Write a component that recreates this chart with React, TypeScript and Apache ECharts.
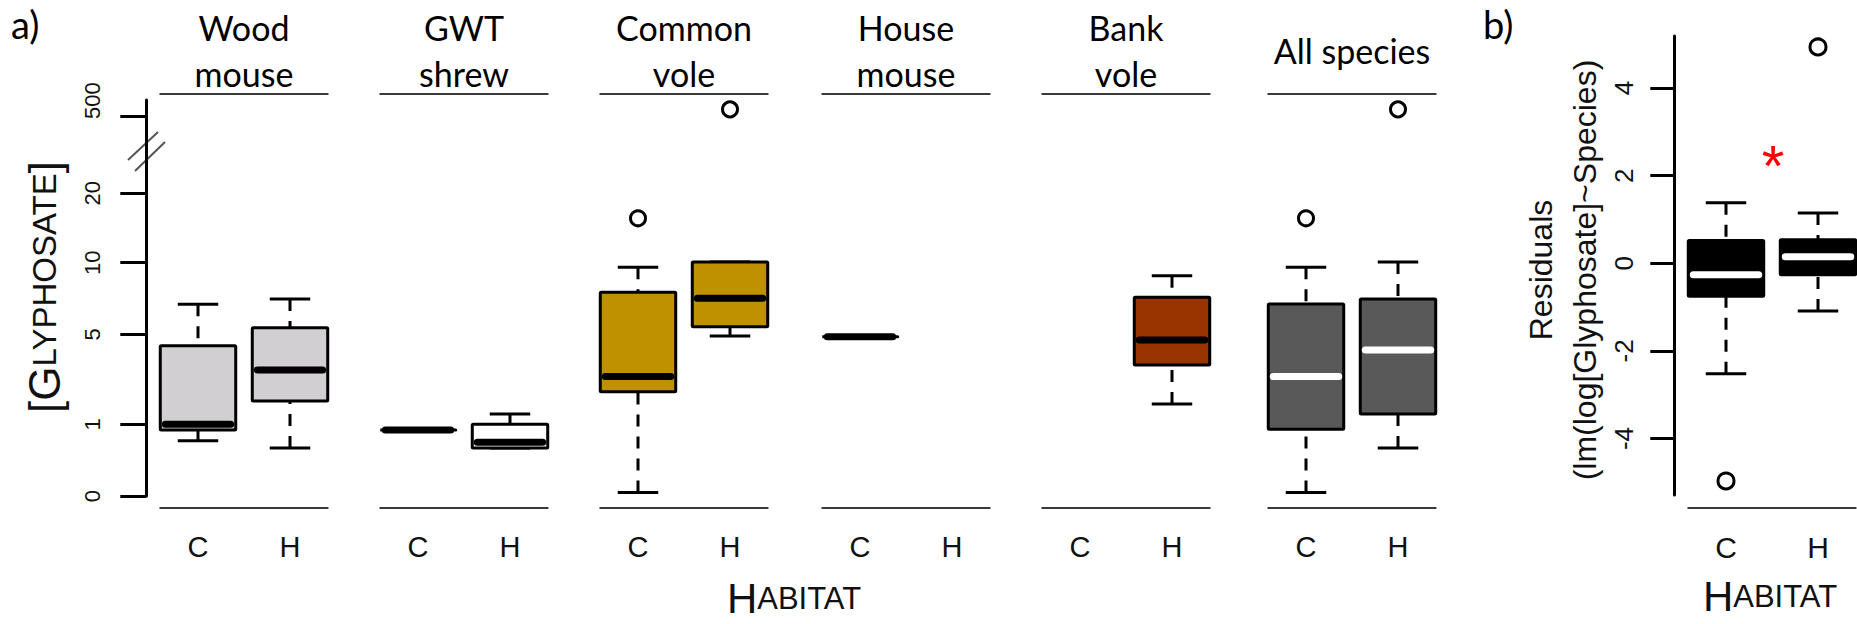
import React, { useEffect, useRef } from "react";
import * as echarts from "echarts";

// ---------- data ----------
const SPECIES = ["Wood\nmouse", "GWT\nshrew", "Common\nvole", "House\nmouse", "Bank\nvole", "All species"];
const HABITATS = ["C", "H"];
// five-number summaries [lower whisker, Q1, median, Q3, upper whisker] for C and H ([GLYPHOSATE])
const WOOD_MOUSE = [[0.77, 0.92, 1.0, 4.49, 7.1], [0.67, 2.04, 3.41, 5.46, 7.46]];
const GWT_SHREW = [[0.92, 0.92, 0.92, 0.92, 0.92], [0.67, 0.67, 0.75, 1.0, 1.46]];
const COMMON_VOLE = [[0.05, 2.45, 3.12, 7.93, 9.68], [4.92, 5.53, 7.51, 10.1, 10.1]];
const HOUSE_MOUSE = [[4.89, 4.89, 4.89, 4.89, 4.89], null];
const BANK_VOLE = [null, [1.9, 3.64, 4.75, 7.58, 9.09]];
const ALL_SPECIES = [[0.05, 0.93, 3.12, 7.12, 9.68], [0.67, 1.46, 4.3, 7.47, 10.1]];
// outliers [habitat index, value]
const COMMON_VOLE_OUT = [[0, 16.4], [1, 546]];
const ALL_SPECIES_OUT = [[0, 16.4], [1, 546]];
const GLY_TICKS = [0, 1, 5, 10, 20, 500];

// residuals panel b
const RESID_C = [-2.52, -0.75, -0.26, 0.52, 1.38];
const RESID_H = [-1.09, -0.26, 0.15, 0.54, 1.15];
const RESID_OUT = [[0, -4.97], [1, 4.94]];
const RESID_TICKS = [-4, -2, 0, 2, 4];

const BOX_STATS = [WOOD_MOUSE, GWT_SHREW, COMMON_VOLE, HOUSE_MOUSE, BANK_VOLE, ALL_SPECIES];
const OUTLIERS = [[], [], COMMON_VOLE_OUT, [], [], ALL_SPECIES_OUT];

// ---------- styles / layout ----------
const FILLS = ["#d1cfd1", "#ffffff", "#bf9000", "#ffffff", "#993300", "#595959"];
const MEDIANS = ["#000", "#000", "#000", "#000", "#000", "#fff"];
const PITCH = 92; // px between C and H
const C_CENTERS = [198, 418, 638, 860, 1080, 1306];
const A_TOP = 100;
const A_HEIGHT = 396;
const B_C_CENTER = 1726;
const B_TOP = 36;
const B_HEIGHT = 459;
const TOP_LABEL_LIFT = 16; // the "500" label sits a little above its tick
const ARIAL = "Liberation Sans, Arial, sans-serif";
const CALIBRI = "Lato, Carlito, sans-serif";

// broken axis scale of panel a: tick value -> axis position (px from zero)
const GLY_SCALE = [0, 71.7, 161.7, 233.3, 302.7, 379.3];
function glyT(v: number): number {
  const t = GLY_TICKS, p = GLY_SCALE;
  for (let i = 1; i < t.length; i++) {
    if (v <= t[i]) return p[i - 1] + ((v - t[i - 1]) / (t[i] - t[i - 1])) * (p[i] - p[i - 1]);
  }
  const n = t.length - 1;
  return p[n] + ((v - t[n]) / (t[n] - t[n - 1])) * (p[n] - p[n - 1]);
}

const makeBoxRender = (fill: string, medianColor: string) => (params: any, api: any) => {
  const x = api.value(0);
  const pts = [1, 2, 3, 4, 5].map((i) => api.coord([x, api.value(i)]));
  const cx = pts[0][0];
  const [yLo, yQ1, yMed, yQ3, yHi] = pts.map((p: number[]) => p[1]);
  const unit = api.size([1, 0])[0];
  const hw = 0.41 * unit;
  const sw = 0.22 * unit;
  const solid = { stroke: "#000", lineWidth: 3 };
  const dashed = { stroke: "#000", lineWidth: 3, lineDash: [12, 10] };
  const children: any[] = [];
  if (yLo - yQ1 > 1) children.push({ type: "line", shape: { x1: cx, y1: yLo, x2: cx, y2: yQ1 }, style: dashed });
  if (yQ3 - yHi > 1) children.push({ type: "line", shape: { x1: cx, y1: yHi, x2: cx, y2: yQ3 }, style: dashed });
  children.push({ type: "line", shape: { x1: cx - sw, y1: yLo, x2: cx + sw, y2: yLo }, style: solid });
  children.push({ type: "line", shape: { x1: cx - sw, y1: yHi, x2: cx + sw, y2: yHi }, style: solid });
  children.push({
    type: "rect",
    shape: { x: cx - hw, y: yQ3, width: 2 * hw, height: yQ1 - yQ3, r: 1 },
    style: { fill, stroke: "#000", lineWidth: 3, lineJoin: "round" },
  });
  children.push({
    type: "line",
    shape: { x1: cx - hw + 5, y1: yMed, x2: cx + hw - 5, y2: yMed },
    style: { stroke: medianColor, lineWidth: 7, lineCap: "round" },
  });
  return { type: "group", children };
};

function buildOption() {
  const grid: any[] = [];
  const xAxis: any[] = [];
  const yAxis: any[] = [];
  const series: any[] = [];
  const graphic: any[] = [];
  const lineStyle = { color: "#3a3a3a", width: 2 };
  const gridW = 1.82 * PITCH;
  const tickPos = GLY_TICKS.map(glyT);
  const labelPos = tickPos.map((p, k) => (k === tickPos.length - 1 ? p + TOP_LABEL_LIFT : p));

  SPECIES.forEach((name, i) => {
    const left = C_CENTERS[i] - 0.41 * PITCH;
    grid.push({ left, top: A_TOP, width: gridW, height: A_HEIGHT });
    xAxis.push({
      type: "value", gridIndex: i, min: -0.41, max: 1.41, position: "bottom", offset: 12,
      axisLine: { show: true, onZero: false, lineStyle }, axisTick: { show: false }, splitLine: { show: false },
      axisLabel: {
        customValues: [0, 1], formatter: (v: number) => HABITATS[Math.round(v)],
        fontSize: 29, fontFamily: ARIAL, color: "#111", margin: 24,
      },
    });
    xAxis.push({
      type: "value", gridIndex: i, min: -0.41, max: 1.41, position: "top", offset: 6,
      axisLine: { show: true, onZero: false, lineStyle }, axisTick: { show: false }, splitLine: { show: false },
      axisLabel: { show: false },
    });
    yAxis.push({
      type: "value", gridIndex: i, min: 0, max: A_HEIGHT, show: i === 0, offset: 14,
      axisLine: { show: true, onZero: false, lineStyle: { color: "#000", width: 3 } },
      axisTick: { show: true, length: 26, customValues: tickPos, lineStyle: { color: "#000", width: 3 } },
      axisLabel: {
        customValues: labelPos,
        formatter: (val: number) => {
          const k = labelPos.findIndex((p) => Math.abs(p - val) < 0.5);
          return k >= 0 ? String(GLY_TICKS[k]) : "";
        },
        rotate: 90, fontSize: 22, fontFamily: ARIAL, color: "#111", margin: 43,
      },
      splitLine: { show: false },
    });
    const data = BOX_STATS[i]
      .map((s, h) => (s ? [h, ...s.map(glyT)] : null))
      .filter((d) => d !== null);
    series.push({
      type: "custom", xAxisIndex: 2 * i, yAxisIndex: i, data,
      renderItem: makeBoxRender(FILLS[i], MEDIANS[i]), z: 2,
    });
    if (OUTLIERS[i].length) {
      series.push({
        type: "scatter", xAxisIndex: 2 * i, yAxisIndex: i,
        data: OUTLIERS[i].map(([h, v]) => [h, glyT(v)]),
        symbol: "circle", symbolSize: 15, z: 3,
        itemStyle: { color: "#fff", borderColor: "#000", borderWidth: 3, opacity: 1 },
      });
    }
    graphic.push({
      type: "text", x: C_CENTERS[i] + 0.5 * PITCH, y: 50,
      style: {
        text: name, textAlign: "center", textVerticalAlign: "middle",
        fontSize: 34, fontFamily: CALIBRI, lineHeight: 46, fill: "#000",
      },
    });
  });

  // panel b
  const bi = SPECIES.length;
  grid.push({ left: B_C_CENTER - 0.41 * PITCH, top: B_TOP, width: gridW, height: B_HEIGHT });
  xAxis.push({
    type: "value", gridIndex: bi, min: -0.41, max: 1.41, position: "bottom", offset: 13,
    axisLine: { show: true, onZero: false, lineStyle }, axisTick: { show: false }, splitLine: { show: false },
    axisLabel: {
      customValues: [0, 1], formatter: (v: number) => HABITATS[Math.round(v)],
      fontSize: 30, fontFamily: ARIAL, color: "#111", margin: 24,
    },
  });
  yAxis.push({
    type: "value", gridIndex: bi, min: -5.29, max: 5.19, offset: 14,
    axisLine: { show: true, onZero: false, lineStyle: { color: "#000", width: 3 } },
    axisTick: { show: true, length: 24, customValues: RESID_TICKS, lineStyle: { color: "#000", width: 3 } },
    axisLabel: {
      customValues: RESID_TICKS, rotate: 90, fontSize: 26, fontFamily: ARIAL, color: "#111", margin: 37,
    },
    splitLine: { show: false },
  });
  series.push({
    type: "custom", xAxisIndex: 2 * bi, yAxisIndex: bi,
    data: [[0, ...RESID_C], [1, ...RESID_H]],
    renderItem: makeBoxRender("#000", "#fff"), z: 2,
  });
  series.push({
    type: "scatter", xAxisIndex: 2 * bi, yAxisIndex: bi, data: RESID_OUT,
    symbol: "circle", symbolSize: 16, z: 3,
    itemStyle: { color: "#fff", borderColor: "#000", borderWidth: 3, opacity: 1 },
  });

  const smallCaps = (big: string, small: string, fb: number, fs: number) => ({
    text: `{a|${big}}{b|${small}}`,
    textAlign: "center",
    textVerticalAlign: "middle",
    rich: {
      a: { fontSize: fb, fontFamily: ARIAL, fill: "#111", lineHeight: fb },
      b: { fontSize: fs, fontFamily: ARIAL, fill: "#111", lineHeight: fb },
    },
  });

  // decorations and titles
  graphic.push(
    { type: "text", x: 11, y: 24, style: { text: "a)", fontSize: 38, fontFamily: CALIBRI, fill: "#000", textVerticalAlign: "middle" } },
    { type: "text", x: 1483, y: 24, style: { text: "b)", fontSize: 38, fontFamily: CALIBRI, fill: "#000", textVerticalAlign: "middle" } },
    { type: "line", shape: { x1: 128, y1: 160, x2: 158, y2: 132 }, style: { stroke: "#555", lineWidth: 2 } },
    { type: "line", shape: { x1: 135, y1: 171, x2: 165, y2: 142 }, style: { stroke: "#555", lineWidth: 2 } },
    {
      type: "text", x: 44, y: 287, rotation: Math.PI / 2,
      style: {
        text: "{a|[G}{b|LYPHOSATE}{a|]}", textAlign: "center", textVerticalAlign: "middle",
        rich: { a: { fontSize: 44, fontFamily: ARIAL, fill: "#111" }, b: { fontSize: 33, fontFamily: ARIAL, fill: "#111" } },
      },
    },
    { type: "text", x: 794, y: 598, style: smallCaps("H", "ABITAT", 42, 31) },
    { type: "text", x: 1770, y: 596, style: smallCaps("H", "ABITAT", 42, 31) },
    {
      type: "text", x: 1563, y: 270, rotation: Math.PI / 2,
      style: {
        text: "Residuals\n(lm(log[Glyphosate]~Species)", textAlign: "center", textVerticalAlign: "middle",
        fontSize: 32, fontFamily: ARIAL, lineHeight: 44, fill: "#111",
      },
    },
    {
      type: "text", x: 1773, y: 136,
      style: { text: "*", textAlign: "center", textVerticalAlign: "top", fontSize: 58, fontFamily: ARIAL, fill: "#ff0000" },
    }
  );

  return { animation: false, backgroundColor: "#fff", grid, xAxis, yAxis, series, graphic };
}

export default function App() {
  const ref = useRef<HTMLDivElement>(null);
  useEffect(() => {
    if (!ref.current) return;
    const chart = echarts.init(ref.current, undefined, { renderer: "svg" });
    chart.setOption(buildOption() as any);
    return () => chart.dispose();
  }, []);
  return <div ref={ref} style={{ position: "fixed", left: 0, top: 0, width: 1857, height: 624 }} />;
}
